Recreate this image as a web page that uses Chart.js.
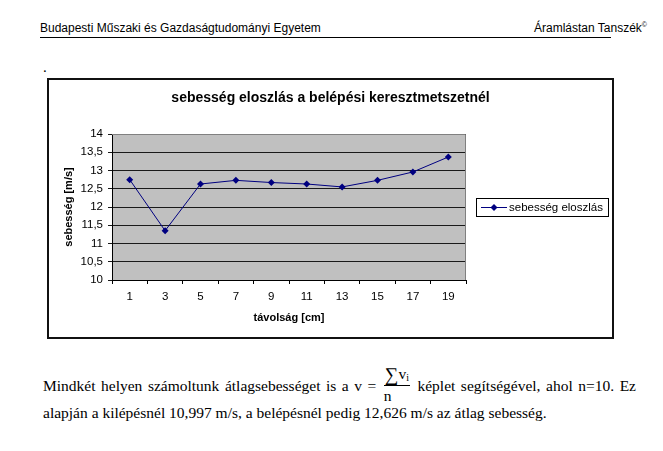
<!DOCTYPE html>
<html>
<head>
<meta charset="utf-8">
<script src="https://cdn.jsdelivr.net/npm/chart.js@4/dist/chart.umd.min.js"></script>
<style>
  html, body { margin: 0; padding: 0; background: #fff; }
  body { width: 663px; height: 451px; position: relative; overflow: hidden; }
  .hdr { position: absolute; top: 21px; font: 12px "Liberation Sans", Arial, sans-serif; color: #000; white-space: nowrap; }
  .hdr sup { font-size: 7px; vertical-align: 5px; }
  #hline { position: absolute; left: 40px; top: 37px; width: 571px; height: 1px; background: #000; }
  #dot { position: absolute; left: 43px; top: 59px; font: 15px "Liberation Serif", serif; }
  #box { position: absolute; left: 47px; top: 78px; width: 563px; height: 257px; border: 2px solid #111; }
  #box canvas { display: block; }
  .txt { position: absolute; left: 43px; width: 593px; font: 15.5px "Liberation Serif", "Times New Roman", serif; color: #000;
         white-space: nowrap; text-align: justify; text-align-last: justify; line-height: 25px; }
  .frac { display: inline-block; vertical-align: -10px; text-align: center; line-height: 1; margin: 0 2px; }
  .frac .num { display: block; border-bottom: 1px solid #000; padding: 0 1px 1px 1px; }
  .frac .num .sig { font-size: 19px; vertical-align: -2px; }
  .frac .num sub { font-size: 10px; vertical-align: -2px; }
  .frac .den { display: block; padding-top: 2px; }
</style>
</head>
<body>
<div class="hdr" style="left:40px">Budapesti Műszaki és Gazdaságtudományi Egyetem</div>
<div class="hdr" style="right:16px">Áramlástan Tanszék<sup>©</sup></div>
<div id="hline"></div>
<div id="dot">.</div>
<div id="box"><canvas id="chart" width="563" height="257"></canvas></div>
<div class="txt" style="top:365px">Mindkét helyen számoltunk átlagsebességet is a v = <span class="frac"><span class="num"><span class="sig">∑</span>v<sub>i</sub></span><span class="den">n</span></span> képlet segítségével, ahol n=10. Ez</div>
<div class="txt" style="top:400px; text-align-last:left">alapján a kilépésnél 10,997 m/s, a belépésnél pedig 12,626 m/s az átlag sebesség.</div>

<script>
var categories = ['1', '3', '5', '7', '9', '11', '13', '15', '17', '19'];
var speedValues = [12.75, 11.35, 12.63, 12.73, 12.67, 12.63, 12.55, 12.73, 12.96, 13.37];
var yTickLabels = ['10', '10,5', '11', '11,5', '12', '12,5', '13', '13,5', '14'];
var seriesName = 'sebesség eloszlás';
var chartTitle = 'sebesség eloszlás a belépési keresztmetszetnél';
var xTitle = 'távolság [cm]';
var yTitle = 'sebesség [m/s]';

Chart.defaults.font.family = '"Liberation Sans", Arial, sans-serif';
Chart.defaults.color = '#000';

//grey plot area with a grey frame on top and right
var plotBack = {
  id: 'plotBack',
  beforeDraw: function(chart) {
    var a = chart.chartArea, ctx = chart.ctx;
    ctx.save();
    ctx.fillStyle = '#c0c0c0';
    ctx.fillRect(a.left, a.top, a.right - a.left, a.bottom - a.top);
    ctx.restore();
  },
  afterDatasetsDraw: function(chart) {
    var a = chart.chartArea, ctx = chart.ctx;
    ctx.save();
    ctx.strokeStyle = '#808080';
    ctx.lineWidth = 1;
    ctx.beginPath();
    ctx.moveTo(a.left, a.top + 0.5);
    ctx.lineTo(a.right - 0.5, a.top + 0.5);
    ctx.lineTo(a.right - 0.5, a.bottom);
    ctx.stroke();
    ctx.restore();
  }
};

//excel style legend with a frame
var boxLegend = {
  id: 'boxLegend',
  afterDraw: function(chart) {
    var a = chart.chartArea, ctx = chart.ctx;
    var ds = chart.data.datasets[0];
    var left = Math.round(a.right) + 10, w = 133, h = 19;
    var top = Math.round((a.top + a.bottom) / 2 - h / 2);
    ctx.save();
    ctx.fillStyle = '#fff';
    ctx.fillRect(left, top, w, h);
    ctx.strokeStyle = '#000';
    ctx.lineWidth = 1;
    ctx.strokeRect(left + 0.5, top + 0.5, w - 1, h - 1);
    var cy = top + h / 2;
    ctx.strokeStyle = ds.borderColor;
    ctx.beginPath();
    ctx.moveTo(left + 5, cy);
    ctx.lineTo(left + 31, cy);
    ctx.stroke();
    ctx.fillStyle = ds.pointBackgroundColor;
    ctx.beginPath();
    ctx.moveTo(left + 18, cy - 3.5);
    ctx.lineTo(left + 21.5, cy);
    ctx.lineTo(left + 18, cy + 3.5);
    ctx.lineTo(left + 14.5, cy);
    ctx.closePath();
    ctx.fill();
    ctx.fillStyle = '#000';
    ctx.font = '11.5px "Liberation Sans", Arial, sans-serif';
    ctx.textBaseline = 'middle';
    ctx.fillText(ds.label, left + 33, cy + 0.5);
    ctx.restore();
  }
};

var ctx = document.getElementById('chart').getContext('2d');
window.myChart = new Chart(ctx, {
  type: 'line',
  data: {
    labels: categories,
    datasets: [
      {
        label: seriesName,
        data: speedValues,
        borderColor: '#000080',
        backgroundColor: '#000080',
        pointBackgroundColor: '#000080',
        pointBorderColor: '#000080',
        borderWidth: 1,
        pointStyle: 'rectRot',
        pointRadius: 3.5,
        pointBorderWidth: 0,
        tension: 0,
        fill: false
      }
    ]
  },
  options: {
    responsive: false,
    animation: false,
    devicePixelRatio: 1,
    layout: { padding: 0 },
    plugins: {
      legend: { display: false },
      tooltip: { enabled: false },
      title: {
        display: true,
        text: chartTitle,
        color: '#000',
        font: { size: 14, weight: 'bold' },
        padding: { top: 9.6, bottom: 27.6 }
      }
    },
    scales: {
      x: {
        offset: true,
        grid: { offset: true, drawOnChartArea: false, drawTicks: true, tickLength: 4, color: '#000' },
        border: { color: '#000', width: 1 },
        ticks: { font: { size: 11.5 }, padding: 6, maxRotation: 0, autoSkip: false },
        title: { display: true, text: xTitle, font: { size: 11, weight: 'bold' }, padding: { top: 0, bottom: 12.4 } },
        afterFit: function(s) { s.height = 57; }
      },
      y: {
        min: 10,
        max: 14,
        grid: { color: '#1a1a1a', lineWidth: 1, drawTicks: true, tickLength: 4 },
        border: { color: '#000', width: 1 },
        ticks: {
          stepSize: 0.5,
          font: { size: 11.5 },
          padding: 5,
          callback: function(v, i) { return yTickLabels[i]; }
        },
        title: { display: true, text: yTitle, font: { size: 11, weight: 'bold' }, padding: { top: 13.4, bottom: 0 } },
        afterFit: function(s) { s.width = 63; }
      },
      //empty axis that keeps room for the legend on the right
      room: {
        type: 'linear',
        position: 'right',
        display: true,
        grid: { display: false, drawOnChartArea: false },
        border: { display: false },
        ticks: { display: false },
        afterFit: function(s) { s.width = 146; }
      }
    }
  },
  plugins: [plotBack, boxLegend]
});
</script>
</body>
</html>
